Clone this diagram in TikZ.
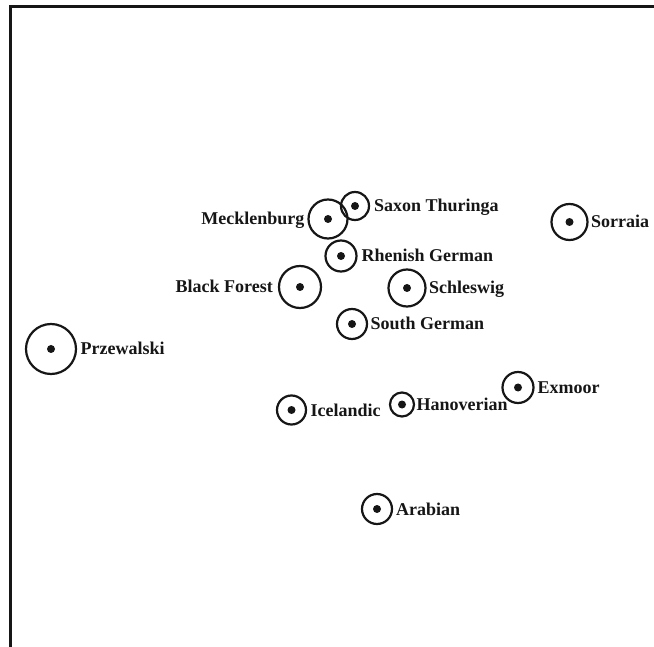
\documentclass[tikz,border=0pt]{standalone}
\usepackage{fontspec}
\setmainfont{Liberation Serif}
\usetikzlibrary{positioning}
\definecolor{ink}{HTML}{161616}
\begin{document}
\begin{tikzpicture}[x=1pt,y=-1pt,
  ring/.style={circle,draw=ink,line width=2.2pt,inner sep=0pt,outer sep=0pt,minimum size=#1},
  dotc/.style={circle,fill=ink,inner sep=0pt,minimum size=8pt},
  lbl/.style={font=\fontsize{18}{20}\selectfont\bfseries,text=ink,inner sep=0pt,text height=12pt,text depth=0pt},
  frame/.style={draw=ink,line width=2.2pt}]
\useasboundingbox (0,0) rectangle (654,647);
% frame
\coordinate (fl) at (10.5,647);
\coordinate (fc) at (10.5,6.5);
\coordinate (fr) at (654,6.5);
\draw[frame] (fl) -- (fc) -- (fr);
% circles
\node[ring=39pt] (meck) at (328,219) {};
\node[ring=28pt] (saxon) at (355,206) {};
\node[ring=31pt] (rhen) at (341,256) {};
\node[ring=42pt] (black) at (300,287) {};
\node[ring=37pt] (schl) at (407,288) {};
\node[ring=30pt] (south) at (352,324) {};
\node[ring=50pt] (prz) at (51,349) {};
\node[ring=29pt] (ice) at (291.5,410) {};
\node[ring=24pt] (han) at (402,404.5) {};
\node[ring=31pt] (exm) at (518,387.5) {};
\node[ring=30pt] (arab) at (377,509) {};
\node[ring=36pt] (sorr) at (569.5,222) {};
% dots
\foreach \n in {meck,saxon,rhen,black,schl,south,prz,ice,han,exm,arab,sorr}
  \node[dotc] (\n-d) at (\n.center) {};
% labels
\node[lbl,left=4pt of meck] (meck-l) {Mecklenburg};
\node[lbl,right=5pt of saxon] (saxon-l) {Saxon Thuringa};
\node[lbl,right=5pt of rhen] (rhen-l) {Rhenish German};
\node[lbl,left=6pt of black] (black-l) {Black Forest};
\node[lbl,right=3.5pt of schl] (schl-l) {Schleswig};
\node[lbl,right=3.5pt of south] (south-l) {South German};
\node[lbl,right=4.5pt of prz] (prz-l) {Przewalski};
\node[lbl,right=4.5pt of ice] (ice-l) {Icelandic};
\node[lbl,right=2.5pt of han] (han-l) {Hanoverian};
\node[lbl,right=4pt of exm] (exm-l) {Exmoor};
\node[lbl,right=4pt of arab] (arab-l) {Arabian};
\node[lbl,right=3.5pt of sorr] (sorr-l) {Sorraia};
\end{tikzpicture}
\end{document}
